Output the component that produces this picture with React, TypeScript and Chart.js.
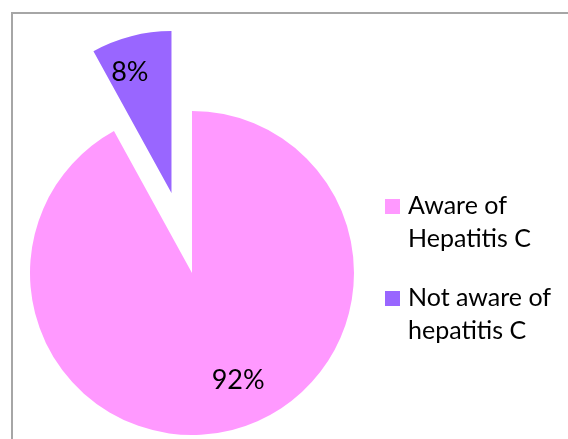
import React, { useEffect, useRef } from "react";
import { Chart, registerables } from "chart.js";

Chart.register(...registerables);

// Survey result: awareness of hepatitis C
const categories: string[][] = [
  ["Aware of", "Hepatitis C"],
  ["Not aware of", "hepatitis C"],
];
const shares: number[] = [92, 8];
const sliceColors: string[] = ["#ff99ff", "#9966ff"];

const FONT = "Lato, 'Open Sans', sans-serif";

// Distance each slice is pulled out from the centre along its mid-angle
function explodeShift(arc: any, dist: number) {
  const mid = (arc.startAngle + arc.endAngle) / 2;
  return { dx: Math.cos(mid) * dist, dy: Math.sin(mid) * dist, mid };
}

// Draws the slices pulled apart, then the percentage labels on them
const explodedPie = {
  id: "explodedPie",
  beforeDatasetsDraw(chart: any, _args: any, opts: any) {
    const { ctx } = chart;
    const meta = chart.getDatasetMeta(0);
    meta.data.forEach((arc: any, i: number) => {
      const { dx, dy } = explodeShift(arc, opts.explode[i] || 0);
      ctx.save();
      ctx.translate(dx, dy);
      arc.draw(ctx);
      ctx.restore();
    });

    const data = chart.data.datasets[0].data as number[];
    const total = data.reduce((a, b) => a + b, 0);
    ctx.save();
    ctx.fillStyle = "#000";
    ctx.font = `${opts.labelSize}px ${FONT}`;
    ctx.textAlign = "center";
    ctx.textBaseline = "middle";
    meta.data.forEach((arc: any, i: number) => {
      const { dx, dy, mid } = explodeShift(arc, opts.explode[i] || 0);
      const place = opts.labelPlace[i];
      const a = mid + (place.delta * Math.PI) / 180;
      const r = arc.outerRadius * place.frac;
      const pct = Math.round((data[i] / total) * 100);
      ctx.fillText(`${pct}%`, arc.x + dx + Math.cos(a) * r, arc.y + dy + Math.sin(a) * r);
    });
    ctx.restore();
    return false;
  },
};

// Legend drawn to the right of the pie with wrapped entries
const sideLegend = {
  id: "sideLegend",
  afterDraw(chart: any, _args: any, opts: any) {
    const { ctx } = chart;
    const labels = chart.data.labels as string[][];
    const colors = chart.data.datasets[0].backgroundColor as string[];
    ctx.save();
    ctx.font = `${opts.size}px ${FONT}`;
    ctx.textAlign = "left";
    ctx.textBaseline = "alphabetic";
    labels.forEach((lines, i) => {
      const base = opts.top + i * opts.entryGap;
      ctx.fillStyle = colors[i];
      ctx.fillRect(opts.x, base - opts.box, opts.box, opts.box);
      ctx.fillStyle = "#000";
      lines.forEach((line, j) => {
        ctx.fillText(line, opts.textX, base + j * opts.lineHeight);
      });
    });
    ctx.restore();
  },
};

export default function App() {
  const canvasRef = useRef<HTMLCanvasElement | null>(null);

  useEffect(() => {
    const canvas = canvasRef.current;
    if (!canvas) return;
    const chart = new Chart(canvas, {
      type: "pie",
      data: {
        labels: categories as any,
        datasets: [
          {
            data: shares,
            backgroundColor: sliceColors,
            borderWidth: 0,
          } as any,
        ],
      },
      options: {
        responsive: false,
        animation: false,
        layout: { padding: { left: 30, right: 214, top: 111, bottom: 4 } },
        plugins: {
          legend: { display: false },
          tooltip: { enabled: false },
          explodedPie: {
            explode: [0, 82.5],
            labelSize: 27,
            labelPlace: [
              { delta: -8.9, frac: 0.72 },
              { delta: -4.6, frac: 0.79 },
            ],
          },
          sideLegend: {
            size: 25,
            x: 385,
            box: 15,
            textX: 408,
            top: 214,
            lineHeight: 33,
            entryGap: 92,
          },
        } as any,
      },
      plugins: [explodedPie, sideLegend],
    });
    return () => chart.destroy();
  }, []);

  return (
    <div
      style={{
        position: "fixed",
        left: 0,
        top: 0,
        width: 568,
        height: 439,
        overflow: "hidden",
        background: "#fff",
      }}
    >
      <div
        style={{
          position: "absolute",
          left: 11,
          top: 12,
          width: 700,
          height: 600,
          borderLeft: "2px solid #a6a6a6",
          borderTop: "2px solid #a6a6a6",
        }}
      />
      <canvas
        ref={canvasRef}
        width={568}
        height={439}
        style={{ position: "absolute", left: 0, top: 0 }}
      />
    </div>
  );
}
